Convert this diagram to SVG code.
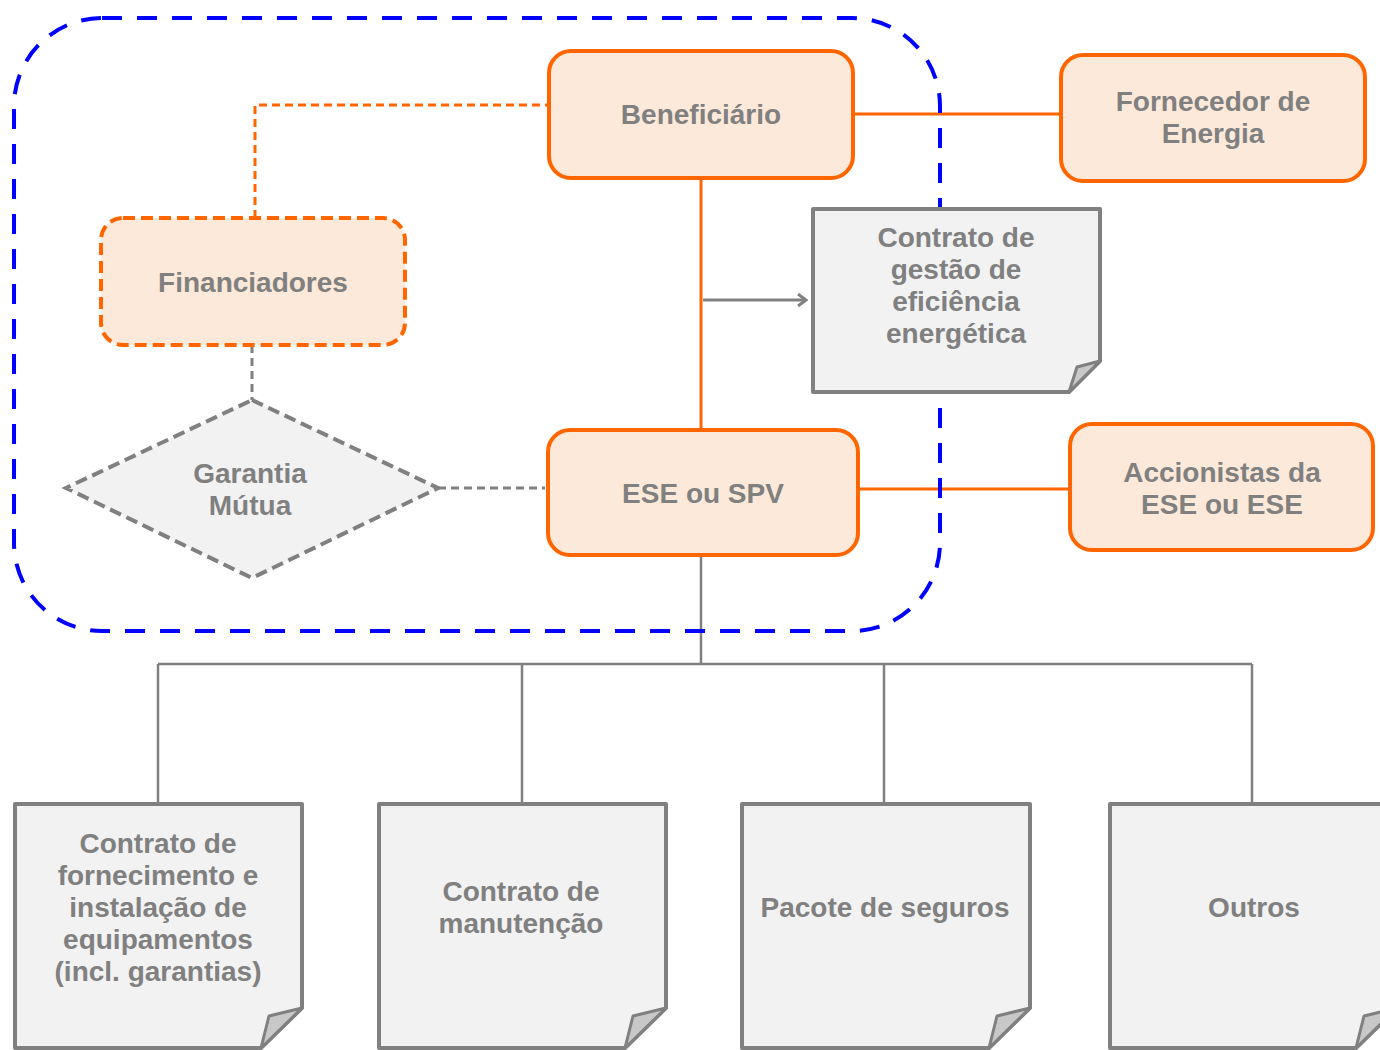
<svg xmlns="http://www.w3.org/2000/svg" width="1380" height="1050" viewBox="0 0 1380 1050">
<style>
.box{fill:#FDE9D9;stroke:#FF6600;stroke-width:4}
.dbox{fill:#FDE9D9;stroke:#FF6600;stroke-width:4;stroke-dasharray:12 6}
.doc{fill:#F2F2F2;stroke:#808080;stroke-width:4;stroke-linejoin:round}
.fold{fill:#C8C8C8;stroke:#808080;stroke-width:3;stroke-linejoin:round}
.t{font-family:"Liberation Sans",Arial,sans-serif;font-weight:bold;font-size:28px;fill:#808080;text-anchor:middle}
.or{stroke:#FF6600;stroke-width:3;fill:none}
.ord{stroke:#FF6600;stroke-width:3;fill:none;stroke-dasharray:8 5}
.gr{stroke:#808080;stroke-width:2.5;fill:none}
.grd{stroke:#808080;stroke-width:3;fill:none;stroke-dasharray:8 5}
</style>
<defs>
<marker id="arr" markerWidth="12" markerHeight="14" refX="10" refY="7" orient="auto" markerUnits="userSpaceOnUse">
<path d="M2,1 L10,7 L2,13" fill="none" stroke="#808080" stroke-width="3"/>
</marker>
</defs>
<g id="connectors">
<path class="ord" d="M255,218 V105 H549"/>
<path class="grd" d="M252,345 V400"/>
<path class="grd" d="M438,488 H545"/>
<path class="or" d="M853,114 H1060"/>
<path class="or" d="M701,178 V430"/>
<path class="or" d="M858,489 H1070"/>
<path d="M703,300 H806" stroke="#808080" stroke-width="3" fill="none" marker-end="url(#arr)"/>
<path class="gr" d="M701,555 V664 M158,664 H1252 M158,664 V804 M522,664 V804 M884,664 V804 M1252,664 V804"/>
</g>
<g id="boundary">
<rect x="14" y="18" width="926" height="613" rx="88" ry="88" fill="none" stroke="#0000FF" stroke-width="4" stroke-dasharray="20 15"/>
</g>
<g id="beneficiario">
<rect class="box" x="549" y="51" width="304" height="127" rx="22"/>
<text class="t" x="701" y="124">Beneficiário</text>
</g>
<g id="fornecedor">
<rect class="box" x="1061" y="55" width="304" height="126" rx="22"/>
<text class="t" x="1213" y="111">Fornecedor de</text>
<text class="t" x="1213" y="143">Energia</text>
</g>
<g id="financiadores">
<rect class="dbox" x="101" y="218" width="304" height="127" rx="22"/>
<text class="t" x="253" y="292">Financiadores</text>
</g>
<g id="garantia">
<polygon points="252,400 438,488 252,578 66,488" fill="#F2F2F2" stroke="#808080" stroke-width="4" stroke-dasharray="12 6"/>
<text class="t" x="250" y="483">Garantia</text>
<text class="t" x="250" y="515">Mútua</text>
</g>
<g id="ese">
<rect class="box" x="548" y="430" width="310" height="125" rx="22"/>
<text class="t" x="703" y="503">ESE ou SPV</text>
</g>
<g id="accionistas">
<rect class="box" x="1070" y="424" width="303" height="126" rx="22"/>
<text class="t" x="1222" y="482">Accionistas da</text>
<text class="t" x="1222" y="514">ESE ou ESE</text>
</g>
<g id="contrato-gestao">
<path class="doc" d="M813,209 H1100 V361 L1069,392 H813 Z"/>
<path class="fold" d="M1100,361 L1077,367 L1069,392 Z"/>
<text class="t" x="956" y="247">Contrato de</text>
<text class="t" x="956" y="279">gestão de</text>
<text class="t" x="956" y="311">eficiência</text>
<text class="t" x="956" y="343">energética</text>
</g>
<g id="contrato-fornecimento">
<path class="doc" d="M15,804 H302 V1008 L261,1048 H15 Z"/>
<path class="fold" d="M302,1008 L269,1016 L261,1048 Z"/>
<text class="t" x="158" y="853">Contrato de</text>
<text class="t" x="158" y="885">fornecimento e</text>
<text class="t" x="158" y="917">instalação de</text>
<text class="t" x="158" y="949">equipamentos</text>
<text class="t" x="158" y="981">(incl. garantias)</text>
</g>
<g id="contrato-manutencao">
<path class="doc" d="M379,804 H666 V1008 L625,1048 H379 Z"/>
<path class="fold" d="M666,1008 L633,1016 L625,1048 Z"/>
<text class="t" x="521" y="901">Contrato de</text>
<text class="t" x="521" y="933">manutenção</text>
</g>
<g id="pacote-seguros">
<path class="doc" d="M742,804 H1030 V1008 L989,1048 H742 Z"/>
<path class="fold" d="M1030,1008 L997,1016 L989,1048 Z"/>
<text class="t" x="885" y="917">Pacote de seguros</text>
</g>
<g id="outros">
<path class="doc" d="M1110,804 H1397 V1008 L1356,1048 H1110 Z"/>
<path class="fold" d="M1397,1008 L1364,1016 L1356,1048 Z"/>
<text class="t" x="1254" y="917">Outros</text>
</g>
</svg>
